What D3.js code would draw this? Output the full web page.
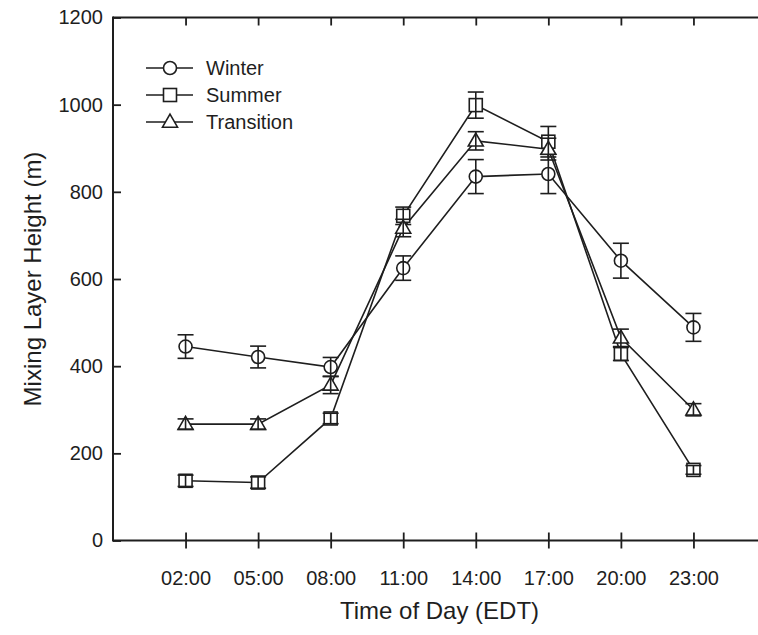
<!DOCTYPE html>
<html><head><meta charset="utf-8">
<script src="https://cdn.jsdelivr.net/npm/d3@7"></script>
<style>
body{margin:0;background:#fff}
text{font-family:"Liberation Sans",Arial,Helvetica,sans-serif;fill:#1e1e1e}
</style>
</head><body>
<svg id="chart" width="758" height="635"></svg>
<script>
const times = ["02:00","05:00","08:00","11:00","14:00","17:00","20:00","23:00"];
const seriesNames = ["Winter","Summer","Transition"];
const winter = [445,421,398,625,835,841,642,489];
const winterErr = [27,25,22,28,39,45,40,32];
const summer = [137,133,280,745,999,915,428,162];
const summerErr = [13,13,12,20,30,35,15,10];
const transition = [267,267,357,717,917,898,465,300];
const transitionErr = [12,12,20,20,21,25,20,14];
const yTicks = [0,200,400,600,800,1000,1200];

const series = [
  {name: seriesNames[0], values: winter, err: winterErr, shape: "circle"},
  {name: seriesNames[1], values: summer, err: summerErr, shape: "square"},
  {name: seriesNames[2], values: transition, err: transitionErr, shape: "triangle"}
];

const svg = d3.select("#chart");
const L = 113, R = 766, T = 17.5, B = 540.5;
const ink = "#1e1e1e";

const x = d3.scalePoint().domain(times).range([L, R]).padding(1);
const y = d3.scaleLinear().domain([0, 1200]).range([B, T]);

// frame
svg.append("line").attr("x1", L).attr("x2", R).attr("y1", T).attr("y2", T).attr("stroke", ink).attr("stroke-width", 2);
svg.append("line").attr("x1", L).attr("x2", R).attr("y1", B).attr("y2", B).attr("stroke", ink).attr("stroke-width", 2);
svg.append("line").attr("x1", L).attr("x2", L).attr("y1", T - 1).attr("y2", B + 1).attr("stroke", ink).attr("stroke-width", 2);

// bottom axis (ticks crossing)
const xAxis = svg.append("g").attr("transform", `translate(0,${B})`)
  .call(d3.axisBottom(x).tickSize(8).tickPadding(22).tickSizeOuter(0));
xAxis.select(".domain").remove();
xAxis.selectAll(".tick line").attr("y1", -8).attr("stroke", ink).attr("stroke-width", 1.8);
xAxis.selectAll(".tick text").attr("font-size", 20).attr("fill", ink).style("font-family", "Liberation Sans, Arial, sans-serif");

// top axis ticks inward
const xTop = svg.append("g").attr("transform", `translate(0,${T})`)
  .call(d3.axisBottom(x).tickSize(8).tickFormat(""));
xTop.select(".domain").remove();
xTop.selectAll(".tick line").attr("stroke", ink).attr("stroke-width", 1.8);

// left axis
const yAxis = svg.append("g").attr("transform", `translate(${L},0)`)
  .call(d3.axisLeft(y).tickValues(yTicks).tickFormat(d3.format("d")).tickSize(-8).tickPadding(10).tickSizeOuter(0));
yAxis.select(".domain").remove();
yAxis.selectAll(".tick line").attr("stroke", ink).attr("stroke-width", 1.8);
yAxis.selectAll(".tick text").attr("font-size", 20).attr("fill", ink).style("font-family", "Liberation Sans, Arial, sans-serif");

// axis titles
svg.append("text").attr("x", (L + R) / 2).attr("y", 619).attr("text-anchor", "middle")
  .attr("font-size", 24).text("Time of Day (EDT)");
svg.append("text").attr("transform", `translate(32,${(T + B) / 2}) rotate(-90)`)
  .attr("text-anchor", "middle").attr("dominant-baseline", "central")
  .attr("font-size", 24).text("Mixing Layer Height (m)");

function drawMarker(g, shape, cx, cy) {
  if (shape === "circle") {
    g.append("circle").attr("cx", cx).attr("cy", cy).attr("r", 6.5)
      .attr("fill", "#fff").attr("stroke", ink).attr("stroke-width", 1.6);
  } else if (shape === "square") {
    g.append("rect").attr("x", cx - 6.5).attr("y", cy - 6.5).attr("width", 13).attr("height", 13)
      .attr("fill", "#fff").attr("stroke", ink).attr("stroke-width", 1.6);
  } else {
    const h = 13, w = 15;
    g.append("path").attr("d", `M${cx},${cy - h * 0.6}L${cx + w / 2},${cy + h * 0.4}L${cx - w / 2},${cy + h * 0.4}Z`)
      .attr("fill", "#fff").attr("stroke", ink).attr("stroke-width", 1.6);
  }
}

const line = d3.line().x((d, i) => x(times[i])).y(d => y(d));
const plot = svg.append("g");

series.forEach(s => {
  plot.append("path").datum(s.values).attr("d", line)
    .attr("fill", "none").attr("stroke", ink).attr("stroke-width", 1.6);
});
series.forEach(s => {
  const g = plot.append("g");
  s.values.forEach((v, i) => {
    const cx = x(times[i]);
    drawMarker(g, s.shape, cx, y(v));
    const e = s.err[i];
    g.append("line").attr("x1", cx).attr("x2", cx).attr("y1", y(v - e)).attr("y2", y(v + e))
      .attr("stroke", ink).attr("stroke-width", 1.6);
    [v - e, v + e].forEach(b => {
      g.append("line").attr("x1", cx - 8).attr("x2", cx + 8).attr("y1", y(b)).attr("y2", y(b))
        .attr("stroke", ink).attr("stroke-width", 1.6);
    });
  });
});

// legend
const leg = svg.append("g");
const legY = [68, 95, 122];
series.forEach((s, i) => {
  const ly = legY[i];
  leg.append("line").attr("x1", 146).attr("x2", 193).attr("y1", ly).attr("y2", ly)
    .attr("stroke", ink).attr("stroke-width", 1.6);
  drawMarker(leg, s.shape, 170, ly);
  leg.append("text").attr("x", 206).attr("y", ly).attr("dominant-baseline", "central")
    .attr("font-size", 20).text(s.name);
});
</script>
</body></html>
